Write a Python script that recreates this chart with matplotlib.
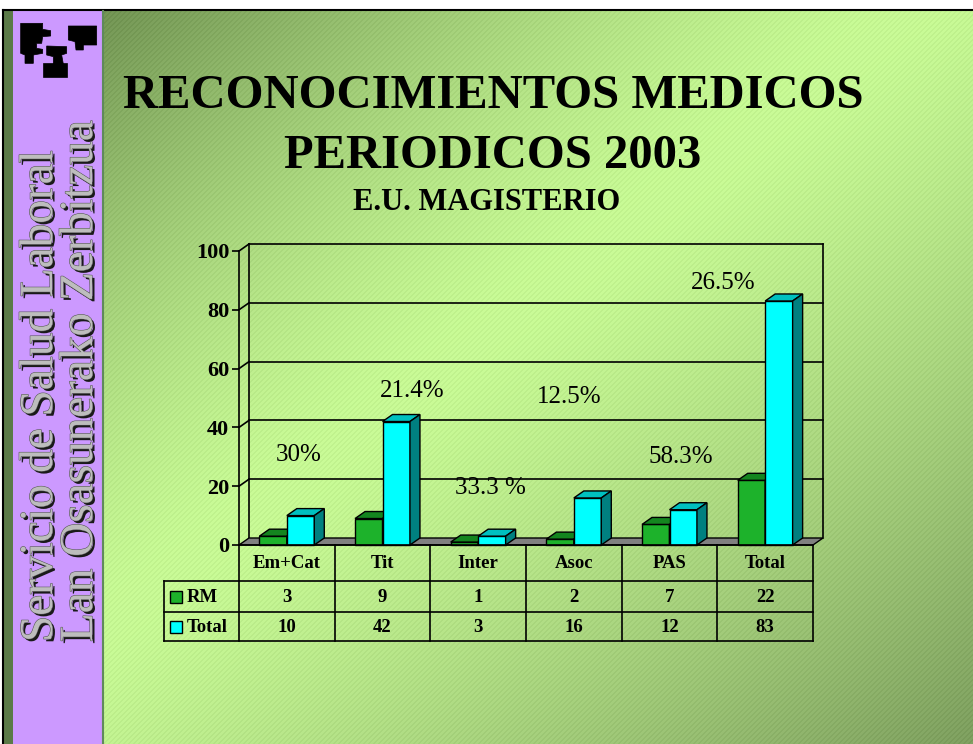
import numpy as np
import matplotlib
matplotlib.use("Agg")
import matplotlib.pyplot as plt
from matplotlib.patches import Polygon, Rectangle
import matplotlib.patheffects as pe

plt.rcParams['font.family'] = ['Liberation Serif', 'DejaVu Serif']

categories = ["Em+Cat", "Tit", "Inter", "Asoc", "PAS", "Total"]
rm = [3, 9, 1, 2, 7, 22]
total = [10, 42, 3, 16, 12, 83]
pct_labels = ["30%", "21.4%", "33.3 %", "12.5%", "58.3%", "26.5%"]
yticks = [0, 20, 40, 60, 80, 100]
series_names = ["RM", "Total"]

# where the percentage labels sit (category units / value units)
pct_x = [0.62, 1.81, 2.63, 3.45, 4.62, 5.06]
pct_y = [28.6, 50.3, 17.3, 48.3, 27.9, 87.1]

W, H = 973, 744
fig = plt.figure(figsize=(W / 100, H / 100), dpi=100)

# ---- slide background (pixel coords) ----
bg = fig.add_axes([0, 0, 1, 1])
bg.set_xlim(0, W)
bg.set_ylim(H, 0)
bg.axis('off')
xx, yy = np.meshgrid(np.arange(W), np.arange(H))
d = (xx / W + yy / H) / 2
light = np.array([0.80, 1.0, 0.60])
dark_tl = np.array([0.38, 0.50, 0.28])
dark_br = np.array([0.50, 0.63, 0.38])
t1 = (np.clip((0.5 - d) / 0.5, 0, 1) ** 1.5)[..., None]
t2 = (np.clip((d - 0.45) / 0.55, 0, 1) ** 1.3)[..., None]
img = light * (1 - t1 - t2) + dark_tl * t1 + dark_br * t2
stripes = 0.035 * (np.sin((xx + yy) * 2 * np.pi / 5) > 0.5)
img = np.clip(img - stripes[..., None], 0, 1)
bg.imshow(img, extent=(0, W, H, 0), aspect='auto', zorder=0)

# white margin + frame
bg.add_patch(Rectangle((0, 0), W, 10, fc='white', ec='none', zorder=1))
bg.add_patch(Rectangle((0, 0), 3, H, fc='white', ec='none', zorder=1))
bg.plot([3, W], [10, 10], color='k', lw=1.5, zorder=2)
bg.plot([3, 3], [10, H], color='k', lw=1.5, zorder=2)

# side bar
bg.add_patch(Rectangle((4, 11), 9, H, fc='#5b7a48', ec='none', zorder=1))
bg.add_patch(Rectangle((13, 11), 89, H, fc='#cc99ff', ec='none', zorder=1))
bg.plot([102.5, 102.5], [11, H], color='#5f8a5a', lw=1.5, zorder=2)

# logo, rough outline of the university tree
logo = [
    [(62, 70), (128, 70), (128, 88), (152, 92), (152, 108), (128, 110), (125, 130),
     (110, 130), (110, 145), (128, 148), (128, 160), (100, 165), (100, 190),
     (75, 190), (75, 165), (62, 160)],
    [(140, 138), (200, 140), (200, 160), (185, 165), (190, 192), (160, 192),
     (160, 170), (140, 165)],
    [(205, 78), (290, 78), (290, 135), (250, 135), (250, 150), (228, 150),
     (225, 125), (205, 120)],
    [(130, 188), (200, 188), (200, 232), (130, 232)],
]
for shape in logo:
    bg.add_patch(Polygon(np.array(shape) / 3, closed=True, fc='k', ec='k', lw=0.5, zorder=3))

shadow = [pe.withSimplePatchShadow(offset=(1.8, -1.8), shadow_rgbFace='#1a1a1a', alpha=1.0),
          pe.withStroke(linewidth=0.8, foreground='#555555')]
bg.text(52, 642, "Servicio de Salud Laboral", rotation=90, rotation_mode='anchor',
        ha='left', va='baseline', fontsize=34, color='#bdbdbd', path_effects=shadow, zorder=4)
bg.text(92, 642, "Lan Osasunerako Zerbitzua", rotation=90, rotation_mode='anchor',
        ha='left', va='baseline', fontsize=34, color='#bdbdbd', path_effects=shadow, zorder=4)

# titles
bg.text(493, 108, "RECONOCIMIENTOS MEDICOS", ha='center', va='baseline',
        fontsize=35, fontweight='bold', zorder=4)
bg.text(493, 168, "PERIODICOS 2003", ha='center', va='baseline',
        fontsize=35, fontweight='bold', zorder=4)
bg.text(487, 210, "E.U. MAGISTERIO", ha='center', va='baseline',
        fontsize=22, fontweight='bold', zorder=4)

# ---- chart ----
ax_l, ax_b, ax_w, ax_h = 239 / W, (H - 545) / H, 574 / W, 294 / H
ax = fig.add_axes([ax_l, ax_b, ax_w, ax_h])
ax.patch.set_visible(False)
ax.set_xlim(0, len(categories))
ax.set_ylim(0, 100)
for s in ['top', 'right', 'bottom']:
    ax.spines[s].set_visible(False)
ax.spines['left'].set_linewidth(1.2)
ax.set_xticks([])
ax.set_yticks(yticks)
ax.tick_params(axis='y', length=5, width=1.2, direction='out', pad=2)
for lab in ax.get_yticklabels():
    lab.set_fontsize(16)
    lab.set_fontweight('bold')

n = len(categories)
ddx = 10 / (ax.bbox.width / n)
ddy = 7 / (ax.bbox.height / 100)

# back wall and left wall
for v in yticks[1:]:
    ax.plot([ddx, n + ddx], [v + ddy, v + ddy], color='k', lw=1.2, clip_on=False, zorder=1)
    ax.plot([0, ddx], [v, v + ddy], color='k', lw=1.2, clip_on=False, zorder=1)
ax.plot([ddx, ddx], [ddy, 100 + ddy], color='k', lw=1.2, clip_on=False, zorder=1)
ax.plot([n + ddx, n + ddx], [ddy, 100 + ddy], color='k', lw=1.2, clip_on=False, zorder=1)
ax.add_patch(Polygon([(0, 0), (n, 0), (n + ddx, ddy), (ddx, ddy)], closed=True,
                     fc='#808080', ec='k', lw=1, clip_on=False, zorder=2))

w = 0.287
xs = np.arange(n) + 0.5
colors = [('#1db22b', '#14851f', '#0f6a18'), ('#00ffff', '#00c0c0', '#008080')]


def bar3d(x, h, cols, z):
    front, top, side = cols
    ax.bar(x, h, w, color=front, edgecolor='k', lw=1, zorder=z, clip_on=False)
    ax.add_patch(Polygon([(x - w / 2, h), (x + w / 2, h), (x + w / 2 + ddx, h + ddy),
                          (x - w / 2 + ddx, h + ddy)], closed=True, fc=top, ec='k',
                         lw=1, zorder=z, clip_on=False))
    ax.add_patch(Polygon([(x + w / 2, 0), (x + w / 2 + ddx, ddy), (x + w / 2 + ddx, h + ddy),
                          (x + w / 2, h)], closed=True, fc=side, ec='k', lw=1,
                         zorder=z, clip_on=False))


for i in range(n):
    bar3d(xs[i] - w / 2, rm[i], colors[0], 3 + 2 * i)
    bar3d(xs[i] + w / 2, total[i], colors[1], 4 + 2 * i)

for i in range(n):
    ax.text(pct_x[i], pct_y[i], pct_labels[i], ha='center', va='baseline',
            fontsize=18, zorder=30)

# ---- data table ----
leg = 0.784
unit = ax_w / n
tab = fig.add_axes([ax_l - leg * unit, (H - 641) / H, ax_w + leg * unit, 96 / H])
tab.set_xlim(-leg, n)
tab.set_ylim(96, 0)
tab.axis('off')
rows = [0, 36, 67, 96]
tab.plot([0, n], [0, 0], color='k', lw=1.2, clip_on=False)
for r in rows[1:]:
    tab.plot([-leg, n], [r, r], color='k', lw=1.2, clip_on=False)
for c in range(n + 1):
    tab.plot([c, c], [0, 96], color='k', lw=1.2, clip_on=False)
tab.plot([-leg, -leg], [36, 96], color='k', lw=1.2, clip_on=False)

for i, cat in enumerate(categories):
    tab.text(i + 0.5, 19, cat, ha='center', va='center', fontsize=13.5, fontweight='bold')
    tab.text(i + 0.5, 52, str(rm[i]), ha='center', va='center', fontsize=13.5, fontweight='bold')
    tab.text(i + 0.5, 82, str(total[i]), ha='center', va='center', fontsize=13.5, fontweight='bold')

for j, (name, cy) in enumerate(zip(series_names, [52, 82])):
    tab.add_patch(Rectangle((-0.726, cy - 6), 0.125, 12, fc=colors[j][0], ec='k', lw=1))
    tab.text(-0.55, cy, name, ha='left', va='center', fontsize=13.5, fontweight='bold')

fig.savefig("out.png", dpi=100)
